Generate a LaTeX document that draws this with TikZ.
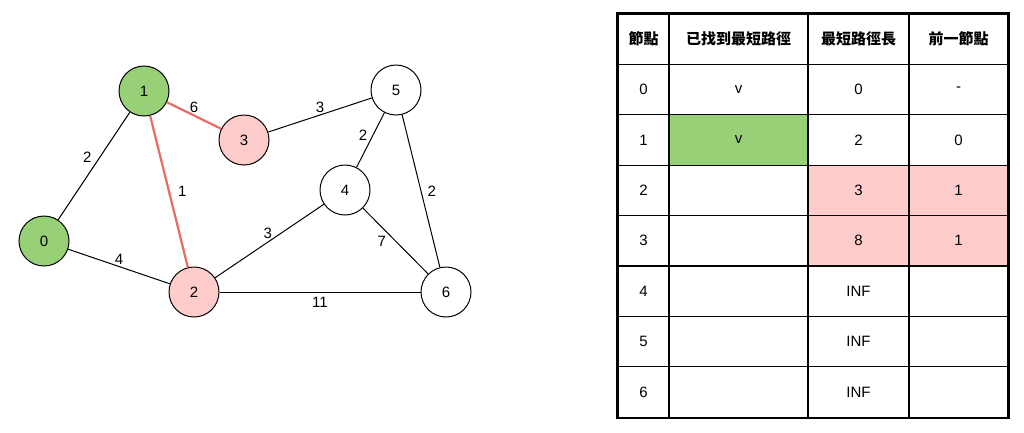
\documentclass[tikz,border=0pt]{standalone}
\usepackage{fontspec}
\setmainfont{Liberation Sans}
\newfontfamily\cjk{Noto Sans CJK TC}
\usetikzlibrary{positioning}
\definecolor{vgreen}{HTML}{97D077}
\definecolor{vpink}{HTML}{FFCCCC}
\definecolor{vred}{HTML}{EA6B66}

\begin{document}
\begin{tikzpicture}[x=1pt,y=-1pt,
  vertex/.style={draw,circle,minimum size=50pt,inner sep=0pt,line width=1pt,font=\fontsize{15}{17}\selectfont},
  wt/.style={font=\fontsize{15}{17}\selectfont,inner sep=2pt},
  edge/.style={line width=1pt},
  hot/.style={line width=2.2pt,draw=vred},
  cell/.style={draw,line width=1.3pt,minimum height=50.4pt,inner sep=0pt,font=\fontsize{15}{17}\selectfont},
  head/.style={cell,font=\cjk\bfseries\fontsize{15}{18}\selectfont}]
\useasboundingbox (0,0) rectangle (1024,432);

% graph
\node[vertex,fill=vgreen] (n0) at (44,241) {0};
\node[vertex,fill=vgreen] (n1) at (144,91) {1};
\node[vertex,fill=vpink] (n2) at (194,292) {2};
\node[vertex,fill=vpink] (n3) at (244,140) {3};
\node[vertex] (n4) at (345,190) {4};
\node[vertex] (n5) at (396,90) {5};
\node[vertex] (n6) at (446,292) {6};

\draw[edge] (n0) -- node[wt,above left=1pt and 0pt] {2} (n1);
\draw[edge] (n0) -- node[wt,above] {4} (n2);
\draw[hot] (n1) -- node[wt,above,text=black] {6} (n3);
\draw[hot] (n1) -- node[wt,right=6pt,text=black] {1} (n2);
\draw[edge] (n3) -- node[wt,above] {3} (n5);
\draw[edge] (n2) -- node[wt,above left=0pt and -5pt] {3} (n4);
\draw[edge] (n5) -- node[wt,left=3pt,pos=0.42] {2} (n4);
\draw[edge] (n5) -- node[wt,right=4pt] {2} (n6);
\draw[edge] (n4) -- node[wt,left=7pt] {7} (n6);
\draw[edge] (n2) -- node[wt,below=3pt] {11} (n6);

% table
\fill[vgreen] (669,114.8) rectangle (808,165.2);
\fill[vpink] (808,165.2) rectangle (1008,266);

\node[head,minimum width=51pt] (h0) at (643.5,39.2) {節點};
\node[head,minimum width=139pt] (h1) at (738.5,39.2) {已找到最短路徑};
\node[head,minimum width=101pt] (h2) at (858.5,39.2) {最短路徑長};
\node[head,minimum width=99pt] (h3) at (958.5,39.2) {前一節點};

\foreach \r/\y/\a/\b/\c/\d in {1/89.6/0/v/0/-, 2/140/1/v/2/0, 3/190.4/2/{}/3/1,
    4/240.8/3/{}/8/1, 5/291.2/4/{}/INF/{}, 6/341.6/5/{}/INF/{}, 7/392/6/{}/INF/{}} {
  \node[cell,minimum width=51pt] (t\r a) at (643.5,\y) {\a};
  \node[cell,minimum width=139pt] (t\r b) at (738.5,\y) {\b};
  \node[cell,minimum width=101pt] (t\r c) at (858.5,\y) {\c};
  \node[cell,minimum width=99pt] (t\r d) at (958.5,\y) {\d};
}
\draw[line width=2.6pt] (h0.north west) rectangle (t7d.south east);
\end{tikzpicture}
\end{document}
